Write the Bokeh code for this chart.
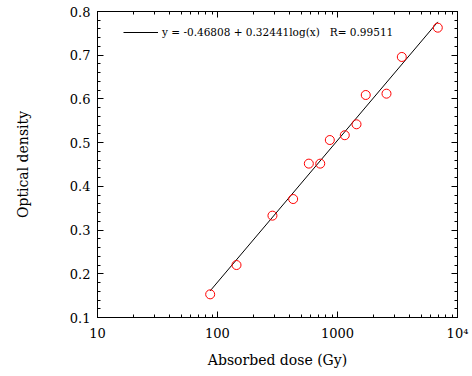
from bokeh.plotting import figure
from bokeh.models import (LogAxis, LinearAxis, SingleIntervalTicker, LogTicker,
                          Legend, LegendItem)
from bokeh.embed import file_html
from bokeh.resources import INLINE
import math

# Data
dose = [86.9, 144, 287, 427, 577, 718, 863, 1150, 1440, 1720, 2560, 3435, 6850]
density = [0.153, 0.220, 0.333, 0.371, 0.452, 0.452, 0.506, 0.517, 0.542, 0.609, 0.612, 0.696, 0.763]

# Fit coefficients (from the chart's legend)
fit_a = -0.46808
fit_b = 0.32441
fit_r = 0.99511

x_tick_labels = {10: "10", 100: "100", 1000: "1000", 10000: "10\u2074"}

fit_x = [min(dose), max(dose)]
fit_y = [fit_a + fit_b * math.log10(v) for v in fit_x]

FONT = "DejaVu Serif"

p = figure(width=472, height=376, x_axis_type="log", x_range=(10, 1e4), y_range=(0.1, 0.8),
           output_backend="svg", toolbar_location=None,
           min_border_left=97, min_border_right=15, min_border_top=11, min_border_bottom=59)
p.grid.visible = False
p.outline_line_color = "black"
p.outline_line_width = 1

fit_r_line = p.line(fit_x, fit_y, line_color="black", line_width=1)
p.scatter(dose, density, marker="circle", size=9, fill_alpha=0, line_color="red", line_width=1)

def style_axis(ax, labels=True):
    ax.axis_line_color = "black"
    ax.major_tick_in = 6
    ax.major_tick_out = 0
    ax.minor_tick_in = 3
    ax.minor_tick_out = 0
    ax.major_tick_line_color = "black"
    ax.minor_tick_line_color = "black"
    ax.major_label_text_font = FONT
    ax.major_label_text_color = "black"
    if labels:
        ax.major_label_text_font_size = "13px"
        ax.major_label_standoff = 8
    else:
        ax.major_label_text_font_size = "1px"
        ax.major_label_text_alpha = 0
        ax.major_label_standoff = 0
    ax.axis_label_text_font = FONT
    ax.axis_label_text_font_style = "normal"
    ax.axis_label_text_font_size = "14px"
    ax.axis_label_text_color = "black"

p.xaxis.ticker = LogTicker(num_minor_ticks=10)
p.yaxis.ticker = SingleIntervalTicker(interval=0.1, num_minor_ticks=5)
style_axis(p.xaxis[0])
style_axis(p.yaxis[0])
p.yaxis.major_label_standoff = 7
p.xaxis.major_label_overrides = x_tick_labels
p.xaxis.axis_label = "Absorbed dose (Gy)"
p.yaxis.axis_label = "Optical density"
p.xaxis.axis_label_standoff = 8
p.yaxis.axis_label_standoff = 36

top = LogAxis(ticker=LogTicker(num_minor_ticks=10))
style_axis(top, labels=False)
p.add_layout(top, "above")
right = LinearAxis(ticker=SingleIntervalTicker(interval=0.1, num_minor_ticks=5))
style_axis(right, labels=False)
p.add_layout(right, "right")

legend = Legend(items=[LegendItem(label="y = -0.46808 + 0.32441log(x)   R= 0.99511", renderers=[fit_r_line])],
                location=(26, 278), padding=0, margin=0, spacing=0,
                glyph_width=35, glyph_height=14, label_height=14, label_standoff=4,
                label_text_font=FONT, label_text_font_size="10.5px", label_text_color="black",
                border_line_alpha=0, background_fill_alpha=0)
p.add_layout(legend, "center")

open("out.html", "w").write(file_html(p, INLINE))
